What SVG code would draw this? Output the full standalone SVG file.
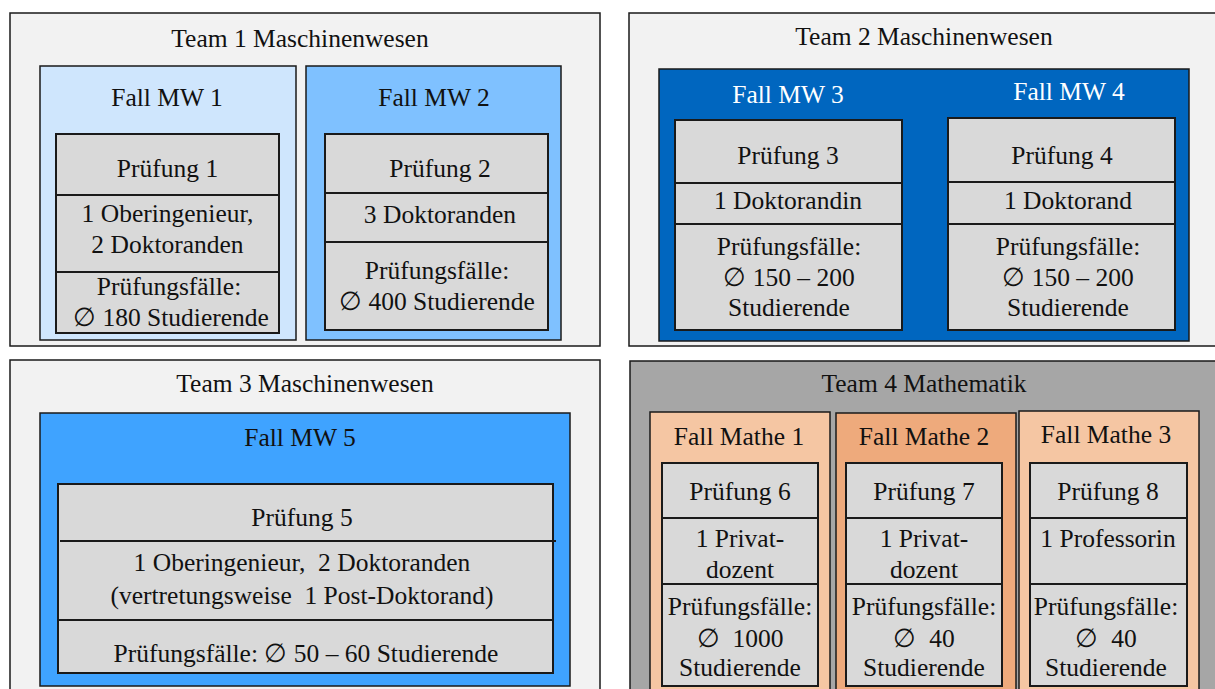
<svg xmlns="http://www.w3.org/2000/svg" width="1215" height="689" viewBox="0 0 1215 689">
<style>
.t{font-family:'Liberation Serif','DejaVu Serif',serif;font-size:25.5px;text-anchor:middle;fill:#111}
.w{fill:#fff}
.team{fill:#f2f2f2;stroke:#1a1a1a;stroke-width:1.5}
.box{stroke:#1a1a1a;stroke-width:1.5}
.pr{fill:#d9d9d9;stroke:#1a1a1a;stroke-width:2}
.ln{stroke:#1a1a1a;stroke-width:2}
</style>
<rect width="1215" height="689" fill="#fff"/>
<g id="team1">
<rect class="team" x="10" y="13" width="590" height="333"/>
<text class="t" x="300" y="47">Team 1 Maschinenwesen</text>
</g>
<g id="fall-mw1">
<rect class="box" x="40" y="66" width="256" height="274" fill="#cfe6fd"/>
<text class="t" x="167" y="106">Fall MW 1</text>
</g>
<g id="pruefung1">
<rect class="pr" x="56" y="134" width="223" height="199"/>
<line class="ln" x1="56" y1="195" x2="279" y2="195"/>
<line class="ln" x1="56" y1="272" x2="279" y2="272"/>
<text class="t" x="167.5" y="177">Prüfung 1</text>
<text class="t" x="167.5" y="222">1 Oberingenieur,</text>
<text class="t" x="167.5" y="253">2 Doktoranden</text>
<text class="t" x="169" y="295">Prüfungsfälle:</text>
<text class="t" x="171" y="326">∅ 180 Studierende</text>
</g>
<g id="fall-mw2">
<rect class="box" x="306" y="66" width="255" height="274" fill="#7fc1ff"/>
<text class="t" x="434" y="106">Fall MW 2</text>
</g>
<g id="pruefung2">
<rect class="pr" x="325" y="134" width="223" height="196"/>
<line class="ln" x1="325" y1="193" x2="548" y2="193"/>
<line class="ln" x1="325" y1="242" x2="548" y2="242"/>
<text class="t" x="440" y="177">Prüfung 2</text>
<text class="t" x="440" y="223">3 Doktoranden</text>
<text class="t" x="437" y="279">Prüfungsfälle:</text>
<text class="t" x="437" y="310">∅ 400 Studierende</text>
</g>
<g id="team2">
<rect class="team" x="629" y="13" width="590" height="333"/>
<text class="t" x="924" y="45">Team 2 Maschinenwesen</text>
</g>
<g id="fall-mw34">
<rect class="box" x="659" y="69" width="530" height="272" fill="#0066bf"/>
<text class="t w" x="788" y="103">Fall MW 3</text>
<text class="t w" x="1069" y="100">Fall MW 4</text>
</g>
<g id="pruefung3">
<rect class="pr" x="675" y="120" width="227" height="210"/>
<line class="ln" x1="675" y1="183" x2="902" y2="183"/>
<line class="ln" x1="675" y1="224" x2="902" y2="224"/>
<text class="t" x="788" y="164">Prüfung 3</text>
<text class="t" x="788" y="209">1 Doktorandin</text>
<text class="t" x="789" y="255">Prüfungsfälle:</text>
<text class="t" x="789" y="286">∅ 150 – 200</text>
<text class="t" x="789" y="316">Studierende</text>
</g>
<g id="pruefung4">
<rect class="pr" x="948" y="118" width="227" height="212"/>
<line class="ln" x1="948" y1="182" x2="1175" y2="182"/>
<line class="ln" x1="948" y1="224" x2="1175" y2="224"/>
<text class="t" x="1062" y="164">Prüfung 4</text>
<text class="t" x="1068" y="209">1 Doktorand</text>
<text class="t" x="1068" y="255">Prüfungsfälle:</text>
<text class="t" x="1068" y="286">∅ 150 – 200</text>
<text class="t" x="1068" y="316">Studierende</text>
</g>
<g id="team3">
<rect class="team" x="10" y="360" width="590" height="335"/>
<text class="t" x="305" y="392">Team 3 Maschinenwesen</text>
</g>
<g id="fall-mw5">
<rect class="box" x="40" y="413" width="530" height="273" fill="#3fa3ff"/>
<text class="t" x="300" y="446">Fall MW 5</text>
</g>
<g id="pruefung5">
<rect class="pr" x="58" y="484" width="495" height="189"/>
<line class="ln" x1="60" y1="541" x2="556" y2="541"/>
<line class="ln" x1="58" y1="620" x2="553" y2="620"/>
<text class="t" x="302" y="526">Prüfung 5</text>
<text class="t" x="302" y="571" xml:space="preserve">1 Oberingenieur,  2 Doktoranden</text>
<text class="t" x="302" y="604" xml:space="preserve">(vertretungsweise  1 Post-Doktorand)</text>
<text class="t" x="306" y="662">Prüfungsfälle: ∅ 50 – 60 Studierende</text>
</g>
<g id="team4">
<rect class="box" x="630" y="361" width="590" height="334" fill="#a6a6a6"/>
<text class="t" x="924" y="392">Team 4 Mathematik</text>
</g>
<g id="fall-mathe1">
<rect class="box" x="650" y="412" width="180" height="280" fill="#f5c6a3"/>
<text class="t" x="739" y="445">Fall Mathe 1</text>
</g>
<g id="pruefung6">
<rect class="pr" x="662" y="463" width="156" height="223"/>
<line class="ln" x1="662" y1="518" x2="818" y2="518"/>
<line class="ln" x1="662" y1="584" x2="818" y2="584"/>
<text class="t" x="740" y="500">Prüfung 6</text>
<text class="t" x="740" y="547">1 Privat-</text>
<text class="t" x="740" y="578">dozent</text>
<text class="t" x="740" y="615">Prüfungsfälle:</text>
<text class="t" x="740" y="647" xml:space="preserve">∅  1000</text>
<text class="t" x="740" y="676">Studierende</text>
</g>
<g id="fall-mathe2">
<rect class="box" x="836" y="413" width="180" height="279" fill="#eeaa7c"/>
<text class="t" x="924" y="445">Fall Mathe 2</text>
</g>
<g id="pruefung7">
<rect class="pr" x="846" y="463" width="156" height="223"/>
<line class="ln" x1="846" y1="518" x2="1002" y2="518"/>
<line class="ln" x1="846" y1="584" x2="1002" y2="584"/>
<text class="t" x="924" y="500">Prüfung 7</text>
<text class="t" x="924" y="547">1 Privat-</text>
<text class="t" x="924" y="578">dozent</text>
<text class="t" x="924" y="615">Prüfungsfälle:</text>
<text class="t" x="924" y="647" xml:space="preserve">∅  40</text>
<text class="t" x="924" y="676">Studierende</text>
</g>
<g id="fall-mathe3">
<rect class="box" x="1019" y="411" width="180" height="281" fill="#f5c6a3"/>
<text class="t" x="1106" y="443">Fall Mathe 3</text>
</g>
<g id="pruefung8">
<rect class="pr" x="1030" y="463" width="157" height="223"/>
<line class="ln" x1="1030" y1="518" x2="1187" y2="518"/>
<line class="ln" x1="1030" y1="584" x2="1187" y2="584"/>
<text class="t" x="1108" y="500">Prüfung 8</text>
<text class="t" x="1108" y="547">1 Professorin</text>
<text class="t" x="1106" y="615">Prüfungsfälle:</text>
<text class="t" x="1106" y="647" xml:space="preserve">∅  40</text>
<text class="t" x="1106" y="676">Studierende</text>
</g>
<g id="connectors"/>
</svg>
